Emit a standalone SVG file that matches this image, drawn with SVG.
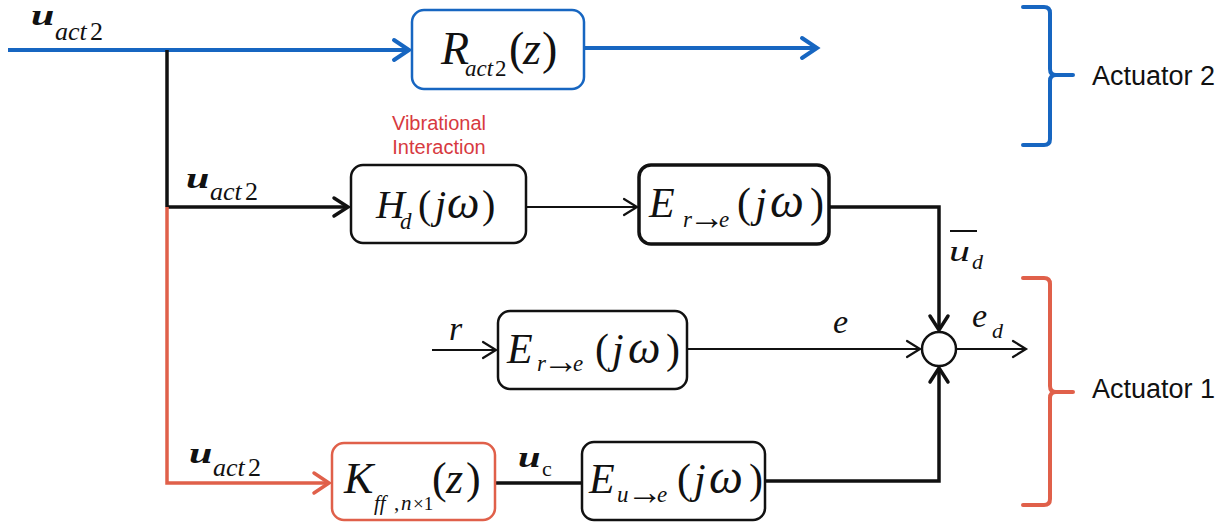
<svg xmlns="http://www.w3.org/2000/svg" width="1232" height="527" viewBox="0 0 1232 527">
<style>
.m{font-family:"Liberation Serif","Times New Roman",serif;font-style:italic;fill:#111}
.up{font-style:normal}
.b{font-weight:bold}
.s{font-family:"Liberation Sans",Arial,sans-serif;fill:#111}
.red{fill:#D73A3F}
.box{fill:#fff;stroke:#111;stroke-width:2.5}
.thick{fill:none;stroke:#111;stroke-width:3.5}
.thin{fill:none;stroke:#111;stroke-width:2}
.blue{fill:none;stroke:#1766C1;stroke-width:4}
.orng{fill:none;stroke:#E0604A;stroke-width:3.5}
</style>
<defs>
<marker id="aBlue" markerUnits="userSpaceOnUse" orient="auto" overflow="visible" refX="0" refY="0" markerWidth="20" markerHeight="24"><path d="M-15,-10 L0,0 L-15,10" fill="none" stroke="#1766C1" stroke-width="4" stroke-linecap="round"/></marker>
<marker id="aThick" markerUnits="userSpaceOnUse" orient="auto" overflow="visible" refX="0" refY="0" markerWidth="20" markerHeight="24"><path d="M-14,-9 L0,0 L-14,9" fill="none" stroke="#111" stroke-width="3.5" stroke-linecap="round"/></marker>
<marker id="aThin" markerUnits="userSpaceOnUse" orient="auto" overflow="visible" refX="0" refY="0" markerWidth="20" markerHeight="24"><path d="M-13,-8 L0,0 L-13,8" fill="none" stroke="#111" stroke-width="2.2" stroke-linecap="round"/></marker>
<marker id="aOrng" markerUnits="userSpaceOnUse" orient="auto" overflow="visible" refX="0" refY="0" markerWidth="20" markerHeight="24"><path d="M-15,-10 L0,0 L-15,10" fill="none" stroke="#E0604A" stroke-width="3.5" stroke-linecap="round"/></marker>
</defs>

<g id="connectors">
<path class="blue" d="M8,50 L409,50" marker-end="url(#aBlue)"/>
<path class="blue" d="M584,48 L817,48" marker-end="url(#aBlue)"/>
<path class="thick" d="M167,50 L167,207"/>
<path class="thick" d="M167,207 L348,207" marker-end="url(#aThick)"/>
<path class="orng" d="M167,207 L167,483 L329,483" marker-end="url(#aOrng)"/>
<path class="thin" d="M526,207 L637,207" marker-end="url(#aThin)"/>
<path class="thick" d="M829,207 L939,207 L939,330" marker-end="url(#aThick)"/>
<path class="thin" d="M432,350 L496,350" marker-end="url(#aThin)"/>
<path class="thin" d="M687,349 L920,349" marker-end="url(#aThin)"/>
<path class="thin" d="M956,349 L1026,349" marker-end="url(#aThin)"/>
<path class="thick" d="M495,483 L582,483"/>
<path class="thick" d="M765,481 L939,481 L939,368" marker-end="url(#aThick)"/>
</g>

<g id="labels">
<text class="m b" font-size="30" transform="translate(31,25) scale(1.4,1)">u</text>
<text class="m" font-size="26"><tspan x="55" y="40">act</tspan><tspan x="90" y="40" class="up">2</tspan></text>

<text class="m b" font-size="30" transform="translate(186,188) scale(1.4,1)">u</text>
<text class="m" font-size="26"><tspan x="210" y="200">act</tspan><tspan x="245" y="200" class="up">2</tspan></text>

<text class="m b" font-size="30" transform="translate(189,463) scale(1.4,1)">u</text>
<text class="m" font-size="26"><tspan x="213" y="476">act</tspan><tspan x="248" y="476" class="up">2</tspan></text>

<text class="m b" font-size="30" transform="translate(518,467) scale(1.35,1)">u</text>
<text class="m up" font-size="22" x="542" y="476">c</text>

<text class="m" font-size="30" transform="translate(949,261) scale(1.4,1)">u</text>
<text class="m" font-size="22" x="972" y="269">d</text>
<line x1="950" y1="231" x2="977" y2="231" stroke="#111" stroke-width="2"/>

<text class="m" font-size="34" x="833" y="333">e</text>
<text class="m" font-size="34"><tspan x="972" y="327">e</tspan><tspan x="992" y="338" font-size="22">d</tspan></text>
<text class="m" font-size="34" x="449" y="340">r</text>
<text class="s red" font-size="20" text-anchor="middle"><tspan x="439" y="130">Vibrational</tspan><tspan x="439" y="154">Interaction</tspan></text>
</g>

<g id="node-R">
<rect x="412" y="10" width="172" height="79" rx="12" fill="#fff" stroke="#1766C1" stroke-width="2.5"/>
<text class="m" font-size="46"><tspan x="441" y="64">R</tspan><tspan x="465" y="76" font-size="23">act</tspan><tspan x="495" y="76" font-size="23" class="up">2</tspan><tspan x="509" y="64" class="up">(</tspan><tspan x="523" y="64">z</tspan><tspan x="542" y="64" class="up">)</tspan></text>
</g>

<g id="node-Hd">
<rect x="351" y="165" width="175" height="78" rx="12" class="box"/>
<text class="m" font-size="40"><tspan x="376" y="218">H</tspan><tspan x="400" y="229" font-size="23">d</tspan><tspan x="418" y="218" class="up">(</tspan><tspan x="435" y="218">j</tspan><tspan x="447" y="218" font-size="46">ω</tspan><tspan x="482" y="218" class="up">)</tspan></text>
</g>

<g id="node-Ere-top">
<rect x="639" y="165" width="190" height="79" rx="12" fill="#fff" stroke="#111" stroke-width="3.5"/>
<text class="m" font-size="42"><tspan x="649" y="217">E</tspan><tspan x="683" y="227" font-size="23">r</tspan><tspan x="689" y="229" font-size="36" class="up">→</tspan><tspan x="719" y="227" font-size="23">e</tspan><tspan x="737" y="217" class="up">(</tspan><tspan x="755" y="217">j</tspan><tspan x="770" y="217" font-size="48">ω</tspan><tspan x="810" y="217" class="up">)</tspan></text>
</g>

<g id="node-Ere-mid">
<rect x="498" y="311" width="189" height="78" rx="12" class="box"/>
<text class="m" font-size="42"><tspan x="507" y="363">E</tspan><tspan x="537" y="371" font-size="23">r</tspan><tspan x="543" y="373" font-size="36" class="up">→</tspan><tspan x="573" y="371" font-size="23">e</tspan><tspan x="595" y="363" class="up">(</tspan><tspan x="612" y="363">j</tspan><tspan x="628" y="363" font-size="46">ω</tspan><tspan x="666" y="363" class="up">)</tspan></text>
</g>

<g id="node-sum">
<circle cx="939" cy="349" r="17" fill="#fff" stroke="#111" stroke-width="2.5"/>
</g>

<g id="node-K">
<rect x="332" y="443" width="163" height="77" rx="12" fill="#fff" stroke="#E0604A" stroke-width="2.5"/>
<text class="m" font-size="44"><tspan x="344" y="493">K</tspan><tspan x="374" y="510" font-size="21">ff</tspan><tspan x="394" y="510" font-size="21" class="up">,</tspan><tspan x="401" y="510" font-size="21">n</tspan><tspan x="413" y="510" font-size="19" class="up">×1</tspan><tspan x="432" y="493" class="up">(</tspan><tspan x="446" y="493">z</tspan><tspan x="466" y="493" class="up">)</tspan></text>
</g>

<g id="node-Eue">
<rect x="582" y="442" width="183" height="78" rx="12" class="box"/>
<text class="m" font-size="42"><tspan x="589" y="493">E</tspan><tspan x="617" y="502" font-size="23">u</tspan><tspan x="627" y="504" font-size="36" class="up">→</tspan><tspan x="657" y="502" font-size="23">e</tspan><tspan x="677" y="493" class="up">(</tspan><tspan x="694" y="493">j</tspan><tspan x="709" y="493" font-size="48">ω</tspan><tspan x="749" y="493" class="up">)</tspan></text>
</g>

<g id="actuator2">
<path d="M1023,7 L1044,7 Q1050,7 1050,13 L1050,69 Q1050,75 1056,75 L1073,75 M1056,75 Q1050,75 1050,81 L1050,139 Q1050,145 1044,145 L1023,145" fill="none" stroke="#1766C1" stroke-width="4" stroke-linecap="round"/>
<text class="s" font-size="27" x="1092" y="85">Actuator 2</text>
</g>

<g id="actuator1">
<path d="M1023,278 L1044,278 Q1050,278 1050,284 L1050,386 Q1050,392 1056,392 L1073,392 M1056,392 Q1050,392 1050,398 L1050,499 Q1050,505 1044,505 L1023,505" fill="none" stroke="#E0604A" stroke-width="4" stroke-linecap="round"/>
<text class="s" font-size="27" x="1092" y="398">Actuator 1</text>
</g>
</svg>
